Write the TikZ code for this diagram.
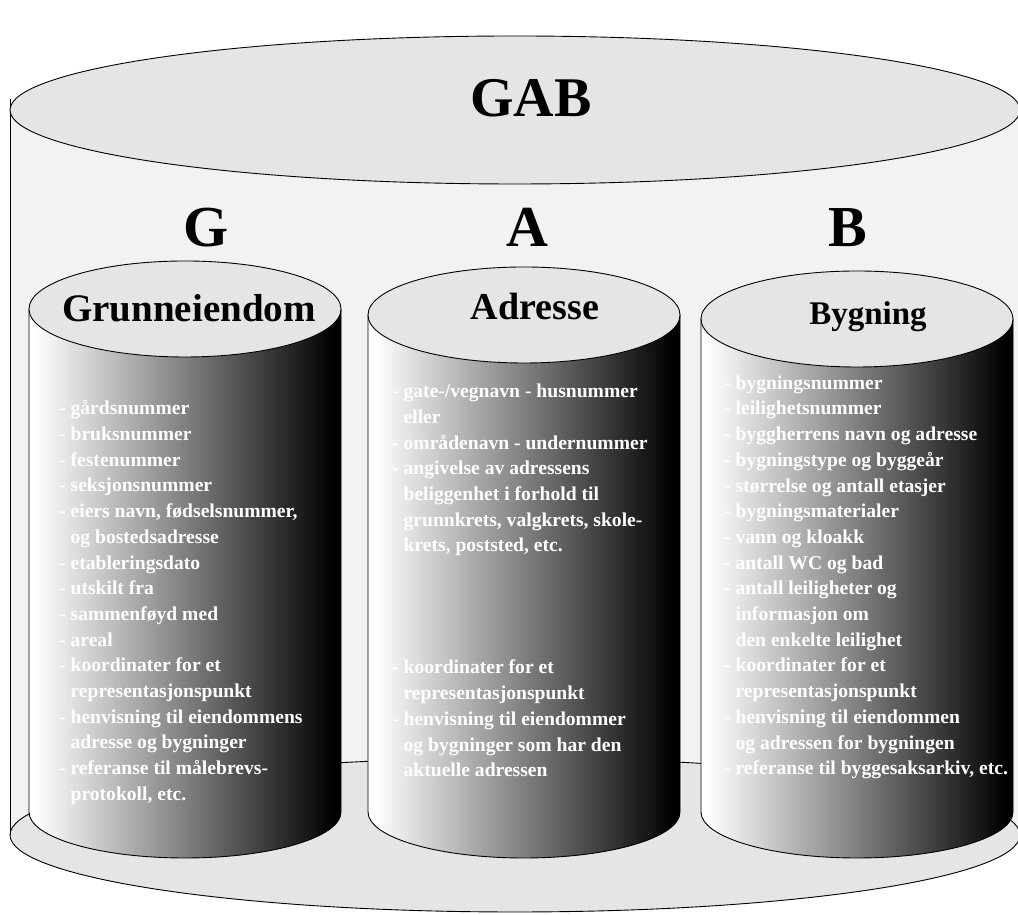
\documentclass[tikz,border=0pt]{standalone}
\usepackage{fontspec}
\setmainfont{Liberation Serif}
\usepackage{tikz}

\definecolor{lidgray}{gray}{0.9}
\definecolor{wallgray}{gray}{0.95}
\pgfdeclarehorizontalshading{cylshade}{100bp}{color(0bp)=(white); color(26bp)=(white); color(74bp)=(black); color(100bp)=(black)}
\newcommand{\gabind}{\hphantom{- }}

\begin{document}
\begin{tikzpicture}[x=1pt,y=1pt,
    outline/.style={draw=black,line width=0.9pt},
    lid/.style={outline,fill=lidgray},
    bigletter/.style={anchor=base,font=\bfseries\fontsize{58}{62}\selectfont},
    itemlist/.style={anchor=north west,inner sep=0pt,align=left,text=white,
      font=\bfseries\fontsize{19.6}{25.7}\selectfont}]
    \useasboundingbox (0,0) rectangle (1018,915);

    % outer cylinder
    \fill[wallgray] (10,805) -- (10,80) arc[start angle=180,end angle=360,x radius=505,y radius=77] -- (1020,805) -- cycle;
    \draw[lid] (515,80) ellipse[x radius=505,y radius=77];
    \draw[outline] (10,816) -- (10,80);
    \draw[outline] (1020,805) -- (1020,80);
    \draw[lid] (515,805) ellipse[x radius=505,y radius=74];

    \node[bigletter,font=\bfseries\fontsize{56}{60}\selectfont] (gab) at (531,798) {GAB};
    \node[bigletter] (g) at (206,668) {G};
    \node[bigletter] (a) at (527,668) {A};
    \node[bigletter] (b) at (848,668) {B};

    % inner cylinders
    \foreach \cx/\cy in {185/606,524/600,857/596}{
      \shade[shading=cylshade] (\cx-156,\cy) -- (\cx-156,103) arc[start angle=180,end angle=360,x radius=156,y radius=46] -- (\cx+156,\cy) -- cycle;
      \draw[outline] (\cx-156,\cy) -- (\cx-156,103) arc[start angle=180,end angle=360,x radius=156,y radius=46] -- (\cx+156,\cy);
      \draw[lid] (\cx,\cy) ellipse[x radius=156,y radius=48];
    }

    \node[anchor=base,font=\bfseries\fontsize{39}{42}\selectfont] (grunn) at (189,593) {Grunneiendom};
    \node[anchor=base,font=\bfseries\fontsize{38}{42}\selectfont] (adr) at (535,595) {Adresse};
    \node[anchor=base,font=\bfseries\fontsize{33}{36}\selectfont] (byg) at (868,590) {Bygning};

    \node[itemlist] (glist) at (59,514.5) {- gårdsnummer\\
      - bruksnummer\\
      - festenummer\\
      - seksjonsnummer\\
      - eiers navn, fødselsnummer,\\
      \gabind og bostedsadresse\\
      - etableringsdato\\
      - utskilt fra\\
      - sammenføyd med\\
      - areal\\
      - koordinater for et\\
      \gabind representasjonspunkt\\
      - henvisning til eiendommens\\
      \gabind adresse og bygninger\\
      - referanse til målebrevs-\\
      \gabind protokoll, etc.};

    \node[itemlist] (alist) at (392,531) {- gate-/vegnavn - husnummer\\
      \gabind eller\\
      - områdenavn - undernummer\\
      - angivelse av adressens\\
      \gabind beliggenhet i forhold til\\
      \gabind grunnkrets, valgkrets, skole-\\
      \gabind krets, poststed, etc.};
    \node[itemlist] (alist2) at (392,255) {- koordinater for et\\
      \gabind representasjonspunkt\\
      - henvisning til eiendommer\\
      \gabind og bygninger som har den\\
      \gabind aktuelle adressen};

    \node[itemlist] (blist) at (724,539.5) {- bygningsnummer\\
      - leilighetsnummer\\
      - byggherrens navn og adresse\\
      - bygningstype og byggeår\\
      - størrelse og antall etasjer\\
      - bygningsmaterialer\\
      - vann og kloakk\\
      - antall WC og bad\\
      - antall leiligheter og\\
      \gabind informasjon om\\
      \gabind den enkelte leilighet\\
      - koordinater for et\\
      \gabind representasjonspunkt\\
      - henvisning til eiendommen\\
      \gabind og adressen for bygningen\\
      - referanse til byggesaksarkiv, etc.};
\end{tikzpicture}
\end{document}
